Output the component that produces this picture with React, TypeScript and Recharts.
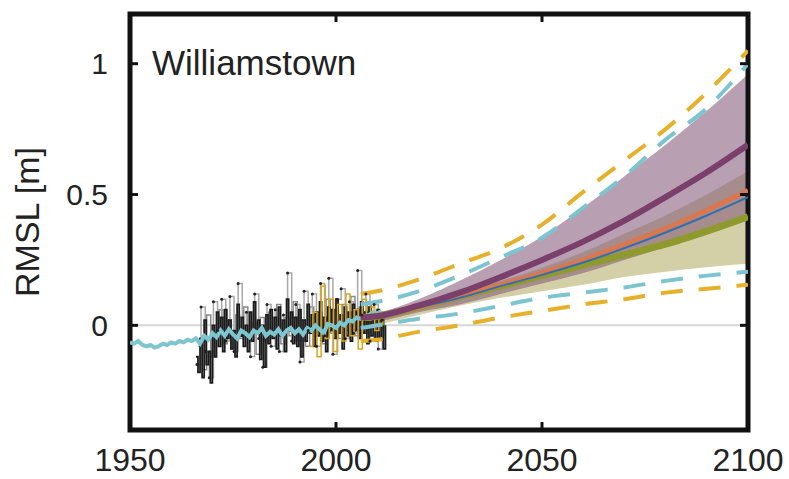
import {
  ComposedChart,
  Line,
  Area,
  XAxis,
  YAxis,
  ReferenceLine,
  ReferenceArea,
} from "recharts";

const FONT = '"Liberation Sans", Arial, Helvetica, sans-serif';

const xTicks = [1950, 2000, 2050, 2100];
const yTicks = [0, 0.5, 1];

// projections (m), read at these years
const projYears = [2006, 2010, 2020, 2030, 2040, 2050, 2060, 2070, 2080, 2090, 2100];
const yellowHi = [0.12, 0.13, 0.175, 0.235, 0.295, 0.385, 0.51, 0.63, 0.75, 0.89, 1.05];
const cyanHi = [0.08, 0.09, 0.13, 0.19, 0.26, 0.335, 0.45, 0.57, 0.71, 0.83, 1.0];
const cyanLo = [-0.01, 0.0, 0.025, 0.045, 0.075, 0.105, 0.125, 0.145, 0.17, 0.19, 0.205];
const yellowLo = [-0.06, -0.055, -0.025, 0.0, 0.03, 0.055, 0.08, 0.1, 0.125, 0.14, 0.155];
const purpleHi = [0.045, 0.05, 0.1, 0.17, 0.25, 0.34, 0.45, 0.57, 0.69, 0.82, 0.96];
const purpleLo = [0.01, 0.015, 0.05, 0.08, 0.12, 0.16, 0.2, 0.25, 0.3, 0.36, 0.43];
const oliveHi = [0.045, 0.05, 0.085, 0.125, 0.17, 0.22, 0.28, 0.35, 0.42, 0.5, 0.59];
const oliveLo = [0.0, 0.005, 0.04, 0.075, 0.105, 0.13, 0.155, 0.185, 0.205, 0.222, 0.235];
const purpleMid = [0.03, 0.035, 0.075, 0.125, 0.185, 0.25, 0.32, 0.4, 0.49, 0.585, 0.69];
const orangeMid = [0.03, 0.035, 0.07, 0.11, 0.155, 0.2, 0.25, 0.31, 0.37, 0.44, 0.515];
const blueMid = [0.03, 0.034, 0.068, 0.105, 0.15, 0.193, 0.24, 0.295, 0.355, 0.42, 0.49];
const oliveMid = [0.03, 0.035, 0.07, 0.11, 0.15, 0.19, 0.23, 0.27, 0.31, 0.36, 0.415];

// reconstructed sea level, yearly from 1950
const recStart = 1950;
const recCyan = [
  -0.065, -0.07, -0.06, -0.075, -0.08, -0.075, -0.085, -0.08, -0.07, -0.075,
  -0.065, -0.07, -0.06, -0.065, -0.055, -0.06, -0.05, -0.07, -0.04, -0.055,
  -0.03, -0.045, -0.02, -0.04, -0.015, -0.035, -0.05, -0.02, -0.03, -0.045,
  -0.02, -0.03, -0.01, -0.04, -0.025, -0.035, -0.015, -0.04, -0.02, -0.01,
  -0.03, -0.015, -0.035, -0.01, -0.02, 0.0, -0.015, -0.03, 0.005, 0.0,
  -0.01, 0.01, 0.0, 0.02, 0.015, 0.03, 0.025, 0.035, 0.04, 0.05,
  0.045, 0.055,
];

// tide gauge traces
const gaugeStart = 1966;
const gaugeDark = [
  -0.12, -0.18, -0.05, -0.2, 0.02, -0.15, -0.1, -0.22, 0.0, -0.12,
  0.05, -0.08, 0.03, -0.1, 0.06, -0.05, 0.02, -0.09, -0.02, -0.12,
  0.08, -0.04, 0.03, -0.08, 0.0, -0.1, 0.05, -0.06, 0.09, -0.03,
  0.02, -0.13, 0.0, -0.16, 0.04, -0.07, 0.06, -0.05, 0.03, -0.09,
  0.07, -0.04, 0.02, -0.1, 0.1, -0.02, 0.05, -0.07, 0.03, -0.08,
  0.06, -0.12, 0.02, -0.06, 0.08, -0.03, 0.04, -0.08, 0.05, -0.04,
  0.09, -0.06, 0.03, -0.1, 0.07, -0.02, 0.06, -0.05, 0.1, -0.03,
  0.04, -0.09, 0.07, -0.04, 0.05, -0.06, 0.08, -0.02, 0.06, -0.05,
  0.09, -0.03, 0.05, -0.07, 0.07, -0.04, 0.04, -0.06, 0.06, -0.05,
  0.03, -0.09, 0.0,
];
const gaugeLight = [
  -0.15, 0.07, -0.1, -0.2, 0.09, -0.02, 0.1, -0.06, 0.11, -0.1,
  0.16, -0.04, 0.05, -0.12, 0.12, -0.05, -0.16, 0.08, -0.08, 0.06,
  -0.1, 0.04, 0.2, -0.06, 0.08, -0.14, 0.13, -0.02, 0.12, -0.08,
  0.16, -0.04, 0.18, -0.11, 0.1, 0.14, -0.05, 0.09, -0.03, 0.21,
  0.04, 0.12, -0.06, 0.08, -0.09, 0.02,
];
const gaugeMid = [
  -0.08, -0.17, 0.04, -0.12, -0.03, 0.06, -0.07, 0.02, -0.09, 0.04,
  -0.05, 0.07, -0.03, 0.01, -0.11, 0.03, -0.06, 0.05, -0.02, 0.08,
  -0.07, 0.03, -0.04, 0.09, -0.06, 0.02, -0.08, 0.07, -0.01, 0.05,
  -0.07, 0.1, -0.03, 0.06, -0.05, 0.08, -0.02, 0.11, -0.04, 0.07,
  -0.03, 0.09, 0.0, 0.05, -0.04, 0.03,
];
const altStart = 1993;
const altGold = [
  -0.08, 0.05, -0.12, 0.15, -0.05, 0.1, -0.1, 0.08, -0.06, 0.12,
  -0.04, 0.06, -0.09, 0.1, 0.02, 0.07, -0.02, 0.05, 0.0,
];

const series = (start: number, step: number, values: number[]) =>
  values.map((v, i) => ({ year: start + i * step, v }));

const projData = projYears.map((year, i) => ({
  year,
  yellowHi: yellowHi[i],
  cyanHi: cyanHi[i],
  cyanLo: cyanLo[i],
  yellowLo: yellowLo[i],
  purpleBand: [purpleLo[i], purpleHi[i]],
  oliveBand: [oliveLo[i], oliveHi[i]],
  purpleMid: purpleMid[i],
  orangeMid: orangeMid[i],
  blueMid: blueMid[i],
  oliveMid: oliveMid[i],
}));

const recData = series(recStart, 1, recCyan);
const darkData = series(gaugeStart, 0.5, gaugeDark);
const lightData = series(gaugeStart + 0.25, 1, gaugeLight);
const midData = series(gaugeStart + 0.6, 1, gaugeMid);
const goldData = series(altStart + 0.4, 1, altGold);

const Y_DOMAIN = [-0.4, 1.19];

export default function App() {
  return (
    <div style={{ position: "absolute", left: 0, top: 0, background: "#fff" }}>
      <ComposedChart
        width={789}
        height={479}
        data={projData}
        margin={{ top: 13, right: 40, bottom: 0, left: 0 }}
        style={{ fontFamily: FONT }}
      >
        <XAxis
          dataKey="year"
          type="number"
          domain={[1950, 2100]}
          ticks={xTicks}
          allowDataOverflow
          height={49}
          axisLine={false}
          tickSize={-8}
          tickMargin={26}
          tickLine={{ stroke: "#111", strokeWidth: 3 }}
          tick={{ fontSize: 32, fill: "#222", fontFamily: FONT }}
          interval={0}
        />
        <XAxis
          xAxisId="top"
          orientation="top"
          dataKey="year"
          type="number"
          domain={[1950, 2100]}
          ticks={xTicks}
          allowDataOverflow
          height={1}
          axisLine={false}
          tickSize={-8}
          tickLine={{ stroke: "#111", strokeWidth: 3 }}
          tickFormatter={() => ""}
        />
        <YAxis
          type="number"
          domain={Y_DOMAIN}
          ticks={yTicks}
          allowDataOverflow
          width={130}
          axisLine={false}
          tickSize={-8}
          tickMargin={30}
          tickLine={{ stroke: "#111", strokeWidth: 3 }}
          tick={{ fontSize: 30, fill: "#222", fontFamily: FONT }}
          interval={0}
          label={{
            value: "RMSL [m]",
            angle: -90,
            position: "insideLeft",
            offset: 27,
            style: { textAnchor: "middle", fontSize: 34, fill: "#222", fontFamily: FONT },
          }}
        />
        <YAxis
          yAxisId="right"
          orientation="right"
          type="number"
          domain={Y_DOMAIN}
          ticks={yTicks}
          allowDataOverflow
          width={1}
          axisLine={false}
          tickSize={-8}
          tickLine={{ stroke: "#111", strokeWidth: 3 }}
          tickFormatter={() => ""}
        />

        <ReferenceLine y={0} stroke="#d6d6d6" strokeWidth={2} />

        {/* projection bands */}
        <Area
          type="monotone"
          dataKey="oliveBand"
          stroke="none"
          fill="#d3cfa6"
          fillOpacity={1}
          isAnimationActive={false}
        />
        <Area
          type="monotone"
          dataKey="purpleBand"
          stroke="none"
          fill="#8a5f7f"
          fillOpacity={0.6}
          isAnimationActive={false}
        />

        {/* observations */}
        <Line
          data={midData}
          dataKey="v"
          type="stepAfter"
          stroke="#8a8a8a"
          strokeWidth={1.5}
          dot={false}
          isAnimationActive={false}
        />
        <Line
          data={lightData}
          dataKey="v"
          type="stepAfter"
          stroke="#a8a8a8"
          strokeWidth={1.5}
          dot={{ r: 1.5, fill: "#222", stroke: "none" }}
          isAnimationActive={false}
        />
        <Line
          data={darkData}
          dataKey="v"
          type="stepAfter"
          stroke="#1c1c1c"
          strokeWidth={1.8}
          dot={false}
          isAnimationActive={false}
        />
        <Line
          data={goldData}
          dataKey="v"
          type="stepAfter"
          stroke="#d9a520"
          strokeWidth={1.5}
          dot={false}
          isAnimationActive={false}
        />
        <Line
          data={recData}
          dataKey="v"
          type="linear"
          stroke="#7ec6cf"
          strokeWidth={4}
          dot={false}
          isAnimationActive={false}
        />

        {/* projection medians */}
        <Line type="monotone" dataKey="oliveMid" stroke="#8f9a2e" strokeWidth={7} dot={false} isAnimationActive={false} />
        <Line type="monotone" dataKey="orangeMid" stroke="#d9774f" strokeWidth={5} dot={false} isAnimationActive={false} />
        <Line type="monotone" dataKey="blueMid" stroke="#2f6fb0" strokeWidth={2} dot={false} isAnimationActive={false} />
        <Line type="monotone" dataKey="purpleMid" stroke="#7a3f6a" strokeWidth={6} dot={false} isAnimationActive={false} />

        {/* dashed envelopes */}
        <Line type="monotone" dataKey="yellowHi" stroke="#e6b02a" strokeWidth={4} strokeDasharray="22 16" dot={false} isAnimationActive={false} />
        <Line type="monotone" dataKey="cyanHi" stroke="#7cc4d0" strokeWidth={4} strokeDasharray="22 16" dot={false} isAnimationActive={false} />
        <Line type="monotone" dataKey="cyanLo" stroke="#7cc4d0" strokeWidth={4} strokeDasharray="22 16" dot={false} isAnimationActive={false} />
        <Line type="monotone" dataKey="yellowLo" stroke="#e6b02a" strokeWidth={4} strokeDasharray="22 16" dot={false} isAnimationActive={false} />

        <ReferenceArea
          x1={1950}
          x2={2100}
          y1={Y_DOMAIN[0]}
          y2={Y_DOMAIN[1]}
          fill="none"
          fillOpacity={0}
          stroke="#111"
          strokeWidth={5}
          ifOverflow="visible"
        />

        <text x={152} y={75} fontSize={35} fill="#222" fontFamily={FONT}>
          Williamstown
        </text>
      </ComposedChart>
    </div>
  );
}
